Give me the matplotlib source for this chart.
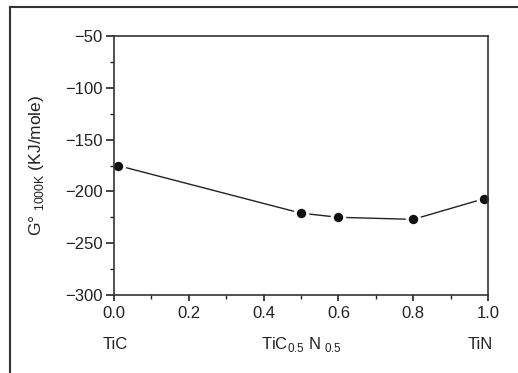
import matplotlib
matplotlib.use("Agg")
import matplotlib.pyplot as plt
from matplotlib.ticker import MultipleLocator
from matplotlib.lines import Line2D

plt.rcParams['font.family'] = ['Liberation Sans Narrow', 'Liberation Sans', 'DejaVu Sans']
plt.rcParams['mathtext.fontset'] = 'custom'
plt.rcParams['mathtext.rm'] = 'Liberation Sans Narrow'

# data
x_frac = [0.01, 0.5, 0.6, 0.8, 0.99]
g_1000k = [-175, -221, -225, -227, -207]
comp_pos = [0.003, 0.5, 0.98]
comp_labels = ['TiC', 'TiC$_{\\mathregular{0.5}}$ N$_{\\mathregular{\\ 0.5}}$', 'TiN']

fig = plt.figure(figsize=(5.18, 3.73), dpi=100)
W, H = 518, 373
ax = fig.add_axes([114 / W, 1 - 295 / H, 374 / W, 259 / H])

ax.plot(x_frac, g_1000k, color='#222222', lw=1.0, marker='o', ms=9,
        mfc='#111111', mec='white', mew=2.2, solid_capstyle='butt')

ax.set_xlim(0, 1.0)
ax.set_ylim(-300, -50)
ax.xaxis.set_major_locator(MultipleLocator(0.2))
ax.xaxis.set_minor_locator(MultipleLocator(0.1))
ax.yaxis.set_major_locator(MultipleLocator(50))
ax.yaxis.set_minor_locator(MultipleLocator(25))
ax.xaxis.set_major_formatter(plt.FuncFormatter(lambda v, p: f'{v:.1f}'))
ax.yaxis.set_major_formatter(plt.FuncFormatter(lambda v, p: f'\u2212{abs(v):.0f}'))
ax.tick_params(which='major', direction='out', width=1.2, labelsize=12,
               colors='#222222', pad=2)
ax.tick_params(axis='y', which='major', length=6)
ax.tick_params(axis='x', which='major', length=4, pad=4)
ax.tick_params(which='minor', direction='out', length=3, width=1.0, colors='#222222')
for s in ax.spines.values():
    s.set_color('#333333')
    s.set_linewidth(1.2)

ax.set_ylabel('G\u00b0 $_{\\mathregular{1000K}}$ (KJ/mole)', fontsize=12.5,
              color='#222222', labelpad=14)

for p, lab in zip(comp_pos, comp_labels):
    ax.text(p, -0.19, lab, transform=ax.transAxes, ha='center', va='center',
            fontsize=12, color='#222222')

# outer frame: top and left lines only
fig.add_artist(Line2D([10 / W, 1.0], [1 - 7 / H, 1 - 7 / H], transform=fig.transFigure,
                      color='#333333', lw=1.5))
fig.add_artist(Line2D([10 / W, 10 / W], [1 - 7 / H, 0], transform=fig.transFigure,
                      color='#333333', lw=1.5))

fig.savefig('out.png', dpi=100)
